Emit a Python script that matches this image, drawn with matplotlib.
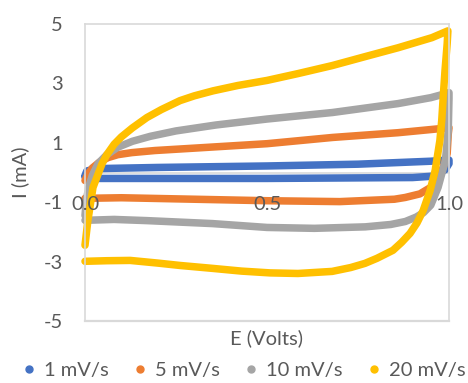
import numpy as np
import matplotlib.pyplot as plt
from matplotlib.lines import Line2D

plt.rcParams['font.family'] = ['Lato', 'DejaVu Sans']
plt.rcParams['axes.unicode_minus'] = False

# cyclic voltammograms: potential (V) and current (mA), anodic sweep then cathodic return
E_1 = [0.0, 0.005, 0.03, 0.2, 0.5, 0.75, 0.95, 1.0, 1.0, 0.99, 0.96, 0.9, 0.5, 0.1, 0.02, 0.0]
I_1 = [-0.1, 0.05, 0.13, 0.17, 0.22, 0.28, 0.38, 0.42, 0.3, 0.1, -0.12, -0.17, -0.2, -0.2, -0.2, -0.15]

E_5 = [0.0, 0.008, 0.02, 0.04, 0.063, 0.09, 0.129, 0.192, 0.3, 0.5, 0.68, 0.86, 0.97, 1.0,
       0.998, 0.995, 0.985, 0.97, 0.95, 0.92, 0.88, 0.85, 0.7, 0.5, 0.3, 0.1, 0.0]
I_5 = [-0.27, -0.05, 0.15, 0.35, 0.5, 0.6, 0.67, 0.74, 0.82, 0.97, 1.18, 1.34, 1.47, 1.51,
       1.3, 0.64, 0.2, -0.2, -0.5, -0.72, -0.84, -0.9, -0.98, -0.95, -0.9, -0.85, -0.87]

E_10 = [0.0, 0.003, 0.01, 0.02, 0.036, 0.06, 0.09, 0.13, 0.18, 0.25, 0.36, 0.5, 0.68,
        0.86, 0.95, 0.98, 1.0,
        1.0, 0.998, 0.99, 0.97, 0.95, 0.93, 0.91, 0.88, 0.84, 0.77, 0.63, 0.5, 0.35,
        0.17, 0.08, 0.0]
I_10 = [-1.45, -1.0, -0.5, -0.1, 0.3, 0.6, 0.85, 1.05, 1.22, 1.4, 1.6, 1.8, 2.02,
        2.32, 2.52, 2.62, 2.69,
        2.5, 1.41, 0.4, -0.5, -1.1, -1.35, -1.5, -1.65, -1.75, -1.83, -1.88, -1.85, -1.72,
        -1.62, -1.58, -1.61]

E_20 = [0.0, 0.008, 0.022, 0.047, 0.06, 0.08, 0.1, 0.13, 0.17, 0.21, 0.261, 0.3, 0.352,
        0.42, 0.5, 0.585, 0.679, 0.769, 0.86, 0.953, 0.997,
        0.995, 0.989, 0.984, 0.98, 0.975, 0.962, 0.948, 0.929, 0.912, 0.893, 0.87, 0.846,
        0.802, 0.769, 0.73, 0.679, 0.585, 0.508, 0.43, 0.352, 0.261, 0.2, 0.124, 0.06, 0.0]
I_20 = [-2.45, -1.61, -0.5, 0.3, 0.6, 0.95, 1.2, 1.5, 1.85, 2.12, 2.42, 2.58, 2.75,
        2.93, 3.1, 3.33, 3.6, 3.9, 4.2, 4.54, 4.77,
        4.34, 3.43, 2.52, 1.75, 1.08, 0.07, -0.61, -1.28, -1.7, -2.05, -2.35, -2.62,
        -2.89, -3.06, -3.2, -3.33, -3.4, -3.38, -3.32, -3.23, -3.13, -3.05, -2.96, -2.97, -2.99]

labels = ['1 mV/s', '5 mV/s', '10 mV/s', '20 mV/s']
colors = ['#4472C4', '#ED7D31', '#A5A5A5', '#FFC000']
txt = '#595959'
edge = '#D9D9D9'

fig = plt.figure(figsize=(4.68, 3.83), dpi=100)
ax = fig.add_axes([85/468, 1-321/383, 364/468, 297/383])

for E, I, c in zip([E_1, E_5, E_10, E_20], [I_1, I_5, I_10, I_20], colors):
    ax.plot(E, I, color=c, lw=5.4, solid_capstyle='round', solid_joinstyle='round',
            clip_on=False)

ax.set_xlim(0, 1.0)
ax.set_ylim(-5, 5)
ax.set_yticks([-5, -3, -1, 1, 3, 5])
ax.set_xticks([0, 0.5, 1.0])
ax.set_xticklabels(['0.0', '0.5', '1.0'])
ax.set_axisbelow(False)

for s in ax.spines.values():
    s.set_color(edge)
    s.set_linewidth(1.2)
# horizontal axis crosses at I = 0, the frame stays at the bottom
ax.spines['bottom'].set_position(('data', 0))
ax.spines['bottom'].set_zorder(1)
ax.axhline(-5, color=edge, lw=1.6, clip_on=False, zorder=0)

ax.tick_params(axis='both', length=0, labelsize=14.5, labelcolor=txt)
ax.tick_params(axis='y', pad=16)
ax.tick_params(axis='x', pad=17)

fig.text(20/468, 1-172/383, 'I (mA)', rotation=90, ha='center', va='center',
         fontsize=14.5, color=txt)
fig.text(267/468, 1-338/383, 'E (Volts)', ha='center', va='center',
         fontsize=14.5, color=txt)

handles = [Line2D([], [], ls='none', marker='o', ms=5, color=c) for c in colors]
leg = fig.legend(handles, labels, loc='center', bbox_to_anchor=(244/468, 1-370/383),
                 ncol=4, frameon=False, fontsize=14.5, handlelength=0.6,
                 handletextpad=0.45, columnspacing=1.25, borderpad=0)
for t in leg.get_texts():
    t.set_color(txt)

fig.savefig('out.png', dpi=100)
